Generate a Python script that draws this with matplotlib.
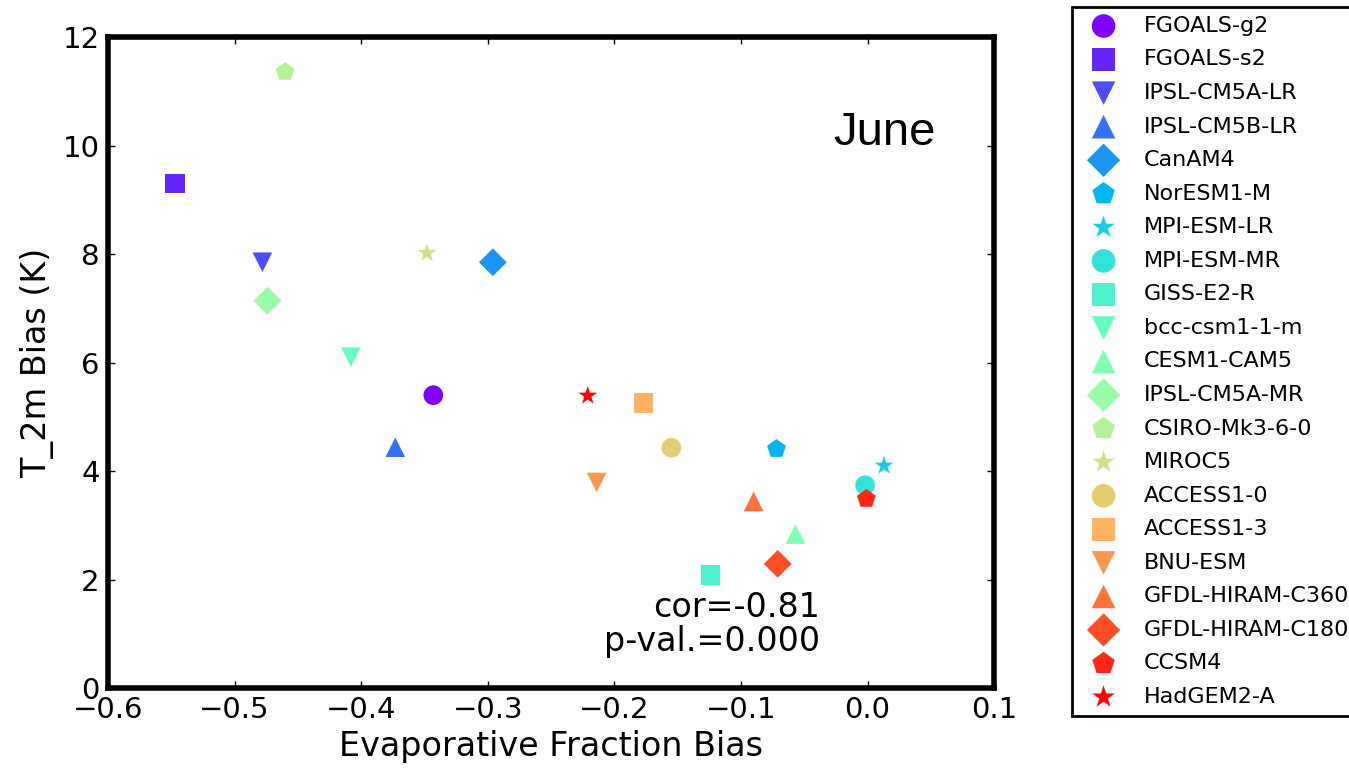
import numpy as np
import matplotlib
matplotlib.use("Agg")
import matplotlib.pyplot as plt

# models, in legend order
models = ['FGOALS-g2', 'FGOALS-s2', 'IPSL-CM5A-LR', 'IPSL-CM5B-LR', 'CanAM4',
          'NorESM1-M', 'MPI-ESM-LR', 'MPI-ESM-MR', 'GISS-E2-R', 'bcc-csm1-1-m',
          'CESM1-CAM5', 'IPSL-CM5A-MR', 'CSIRO-Mk3-6-0', 'MIROC5', 'ACCESS1-0',
          'ACCESS1-3', 'BNU-ESM', 'GFDL-HIRAM-C360', 'GFDL-HIRAM-C180', 'CCSM4',
          'HadGEM2-A']
ef_bias = [-0.343, -0.547, -0.478, -0.373, -0.296,
           -0.072, 0.013, -0.002, -0.124, -0.408,
           -0.057, -0.474, -0.460, -0.348, -0.155,
           -0.177, -0.214, -0.090, -0.071, -0.001,
           -0.221]
t2m_bias = [5.40, 9.30, 7.85, 4.44, 7.85,
            4.41, 4.10, 3.74, 2.08, 6.10,
            2.84, 7.14, 11.36, 8.02, 4.43,
            5.25, 3.79, 3.44, 2.29, 3.49,
            5.39]
marker_cycle = ['o', 's', 'v', '^', 'D', 'p', '*']
month = 'June'
cor_text = 'cor=-0.81'
pval_text = 'p-val.=0.000'

colors = plt.cm.rainbow(np.linspace(0, 1, len(models)))

fig = plt.figure(figsize=(13.49, 7.74), dpi=100)
ax = fig.add_axes([0.080, 0.111, 0.657, 0.841])

for i, name in enumerate(models):
    ax.scatter(ef_bias[i], t2m_bias[i], s=200, color=colors[i],
               marker=marker_cycle[i % len(marker_cycle)],
               edgecolors='none', label=name, zorder=3)

ax.set_xlim(-0.6, 0.1)
ax.set_ylim(0, 12)
ax.set_xticks(np.arange(-0.6, 0.11, 0.1))
ax.set_yticks(np.arange(0, 13, 2))
ax.set_xticklabels(['\u22120.6', '\u22120.5', '\u22120.4', '\u22120.3',
                    '\u22120.2', '\u22120.1', '0.0', '0.1'])
ax.tick_params(direction='in', top=True, right=True, length=5, width=1,
               labelsize=21, pad=6)
for sp in ax.spines.values():
    sp.set_linewidth(4)

ax.set_xlabel('Evaporative Fraction Bias', fontsize=24, labelpad=4)
ax.set_ylabel('T_2m Bias (K)', fontsize=24, labelpad=6)

ax.text(0.818, 0.853, month, transform=ax.transAxes, fontsize=34,
        family='Liberation Sans', ha='left', va='center')
ax.text(0.804, 0.109, cor_text, transform=ax.transAxes, fontsize=24,
        ha='right', va='baseline')
ax.text(0.804, 0.057, pval_text, transform=ax.transAxes, fontsize=24,
        ha='right', va='baseline')

leg = fig.legend(loc='upper left', bbox_to_anchor=(0.795, 0.991),
                 bbox_transform=fig.transFigure, fontsize=16,
                 scatterpoints=1, markerscale=1.2, labelspacing=0.61,
                 borderpad=0.4, handlelength=2.0, handletextpad=0.8,
                 fancybox=False, framealpha=1, borderaxespad=0)
leg.get_frame().set_edgecolor('black')
leg.get_frame().set_linewidth(2)

fig.savefig('out.png', dpi=100)
